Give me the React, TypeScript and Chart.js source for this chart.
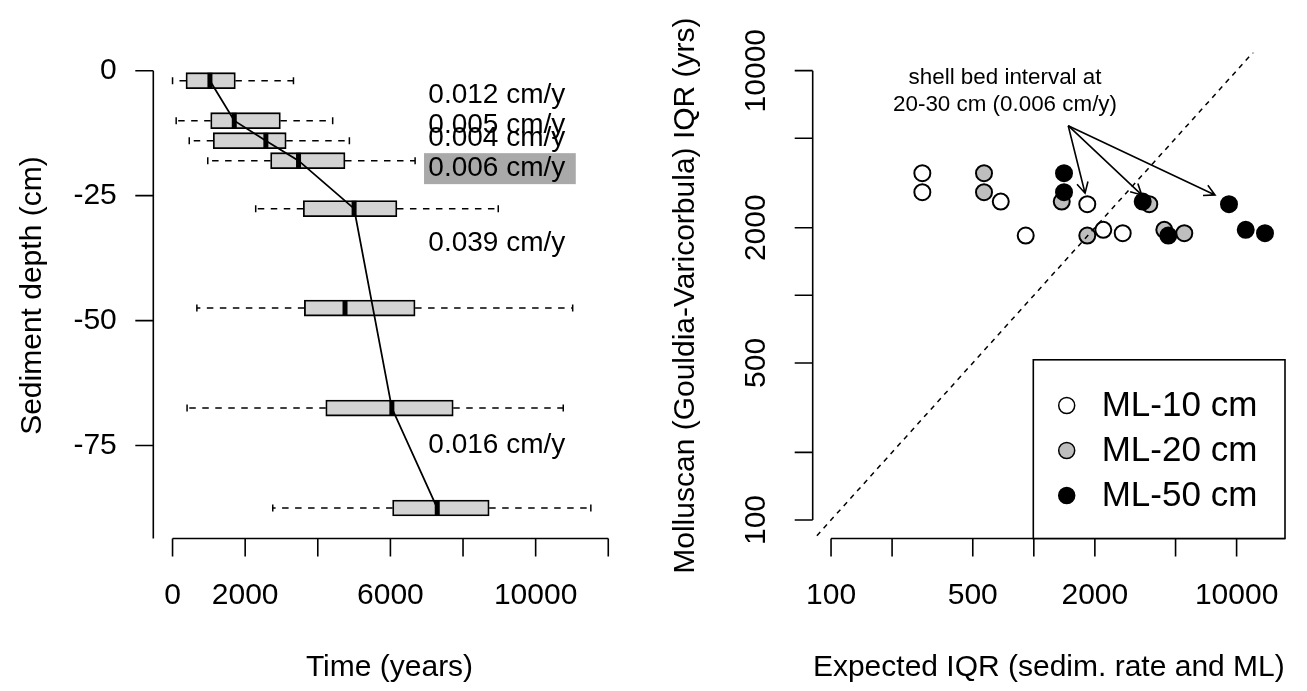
import React, { useEffect, useRef } from 'react';
import { Chart, registerables } from 'chart.js';

Chart.register(...registerables);

const FONT = '"Liberation Sans", Arial, Helvetica, sans-serif';

// ---------- Left panel: age distributions per sediment depth ----------
const boxDepths = [-2, -10, -14, -18, -27.6, -47.5, -67.5, -87.5];
const whiskerLow = [0, 100, 460, 970, 2290, 670, 400, 2760];
const boxQ1 = [370, 1050, 1120, 2700, 3600, 3630, 4220, 6060];
const boxMedian = [1030, 1700, 2570, 3470, 5000, 4750, 6040, 7290];
const boxQ3 = [1730, 2970, 3130, 4750, 6180, 6680, 7730, 8720];
const whiskerHigh = [3330, 4410, 4870, 6680, 8970, 11020, 10760, 11520];

// age-depth model line
const modelAges = [1030, 1700, 2570, 3470, 5000, 6040, 7290];
const modelDepths = [-2, -10, -14, -18, -27.6, -67.5, -87.5];

// sedimentation-rate labels
const rateLabels = ['0.012 cm/y', '0.005 cm/y', '0.004 cm/y', '0.006 cm/y', '0.039 cm/y', '0.016 cm/y'];
const rateDepths = [-4.9, -10.9, -13.5, -19.5, -34.5, -74.9];
const rateLabelAge = 7045;
const highlightBox = { x0: 6926, x1: 11105, y0: -16.5, y1: -22.7 };

const timeTicks = [0, 2000, 4000, 6000, 8000, 10000, 12000];
const timeTickLabels = ['0', '2000', '', '6000', '', '10000', ''];
const depthTicks = [0, -25, -50, -75];
const depthTickLabels = ['0', '-25', '-50', '-75'];

// ---------- Right panel: observed vs expected IQR ----------
const observedIQR = [3496, 2878, 2614, 1845, 2544, 1956, 1890];
const expectedML10 = [282, 282, 687, 912, 1835, 2201, 2744];
const expectedML20 = [568, 568, 1373, 1835, 3711, 4400, 5521];
const expectedML50 = [1409, 1409, 3443, 4604, 9173, 11090, 13804];
const seriesNames = ['ML-10 cm', 'ML-20 cm', 'ML-50 cm'];
const seriesFills = ['#ffffff', '#bebebe', '#000000'];

const logTicks = [100, 200, 500, 1000, 2000, 5000, 10000];
const logTickLabels = ['100', '', '500', '', '2000', '', '10000'];
const oneToOne = [50, 30000];

const arrowFrom = { x: 1478, y: 5690 };
const arrowToX = [1789, 3404, 7826];
const arrowToY = [2848, 2799, 2799];
const noteLines = ['shell bed interval at', '20-30 cm (0.006 cm/y)'];
const noteAnchor = { x: 721, y: 8100 };

// ---------- helpers ----------
function rotText(ctx: CanvasRenderingContext2D, t: string, x: number, y: number) {
  ctx.save();
  ctx.translate(x, y);
  ctx.rotate(-Math.PI / 2);
  ctx.textAlign = 'center';
  ctx.textBaseline = 'middle';
  ctx.fillText(t, 0, 0);
  ctx.restore();
}

const TICK = 18;
const AXIS_LW = 1.6;

const leftAxesPlugin = {
  id: 'leftAxes',
  afterDraw(chart: any) {
    const ctx = chart.ctx as CanvasRenderingContext2D;
    const xs = chart.scales.x;
    const ys = chart.scales.y;
    const { left, bottom, top } = chart.chartArea;
    const cy = (top + bottom) / 2;
    ctx.save();
    ctx.strokeStyle = '#000';
    ctx.fillStyle = '#000';
    ctx.lineWidth = AXIS_LW;
    const xa = xs.getPixelForValue(timeTicks[0]);
    const xb = xs.getPixelForValue(timeTicks[timeTicks.length - 1]);
    ctx.beginPath();
    ctx.moveTo(xa, bottom);
    ctx.lineTo(xb, bottom);
    timeTicks.forEach((v) => {
      const p = xs.getPixelForValue(v);
      ctx.moveTo(p, bottom);
      ctx.lineTo(p, bottom + TICK);
    });
    const ya = ys.getPixelForValue(depthTicks[0]);
    ctx.moveTo(left, ya);
    ctx.lineTo(left, bottom);
    depthTicks.forEach((v) => {
      const p = ys.getPixelForValue(v);
      ctx.moveTo(left, p);
      ctx.lineTo(left - TICK, p);
    });
    ctx.stroke();

    ctx.font = `30px ${FONT}`;
    ctx.textAlign = 'center';
    ctx.textBaseline = 'middle';
    timeTicks.forEach((v, i) => {
      if (timeTickLabels[i]) ctx.fillText(timeTickLabels[i], xs.getPixelForValue(v), bottom + 57.5);
    });
    ctx.textAlign = 'right';
    depthTicks.forEach((v, i) => {
      ctx.fillText(depthTickLabels[i], left - 36.5, ys.getPixelForValue(v));
    });
    ctx.textAlign = 'center';
    ctx.fillText('Time (years)', (chart.chartArea.left + chart.chartArea.right) / 2, bottom + 129.5);
    rotText(ctx, 'Sediment depth (cm)', left - 120.3, cy);
    ctx.restore();
  },
  afterDatasetsDraw(chart: any) {
    const ctx = chart.ctx as CanvasRenderingContext2D;
    const xs = chart.scales.x;
    const ys = chart.scales.y;
    ctx.save();
    const hx0 = xs.getPixelForValue(highlightBox.x0);
    const hx1 = xs.getPixelForValue(highlightBox.x1);
    const hy0 = ys.getPixelForValue(highlightBox.y0);
    const hy1 = ys.getPixelForValue(highlightBox.y1);
    ctx.fillStyle = '#a9a9a9';
    ctx.fillRect(hx0, hy0, hx1 - hx0, hy1 - hy0);
    ctx.fillStyle = '#000';
    ctx.font = `28px ${FONT}`;
    ctx.textAlign = 'left';
    ctx.textBaseline = 'middle';
    rateLabels.forEach((t, i) => {
      ctx.fillText(t, xs.getPixelForValue(rateLabelAge), ys.getPixelForValue(rateDepths[i]));
    });
    ctx.restore();
  },
};

const rightPlugin = {
  id: 'rightDecor',
  afterDatasetsDraw(chart: any) {
    const ctx = chart.ctx as CanvasRenderingContext2D;
    const xs = chart.scales.x;
    const ys = chart.scales.y;
    ctx.save();
    ctx.strokeStyle = '#000';
    ctx.fillStyle = '#000';
    ctx.lineWidth = 1.6;
    const fx = xs.getPixelForValue(arrowFrom.x);
    const fy = ys.getPixelForValue(arrowFrom.y);
    arrowToX.forEach((ax, i) => {
      const tx = xs.getPixelForValue(ax);
      const ty = ys.getPixelForValue(arrowToY[i]);
      const ang = Math.atan2(ty - fy, tx - fx);
      const L = 12;
      const a = (28 * Math.PI) / 180;
      ctx.beginPath();
      ctx.moveTo(fx, fy);
      ctx.lineTo(tx, ty);
      ctx.moveTo(tx - L * Math.cos(ang - a), ty - L * Math.sin(ang - a));
      ctx.lineTo(tx, ty);
      ctx.lineTo(tx - L * Math.cos(ang + a), ty - L * Math.sin(ang + a));
      ctx.stroke();
    });
    ctx.font = `22.4px ${FONT}`;
    ctx.textAlign = 'center';
    ctx.textBaseline = 'middle';
    const nx = xs.getPixelForValue(noteAnchor.x);
    const ny = ys.getPixelForValue(noteAnchor.y);
    const lh = 27;
    noteLines.forEach((t, i) => {
      ctx.fillText(t, nx, ny + (i - (noteLines.length - 1) / 2) * lh);
    });
    ctx.restore();
  },
  afterDraw(chart: any) {
    const ctx = chart.ctx as CanvasRenderingContext2D;
    const xs = chart.scales.x;
    const ys = chart.scales.y;
    const { left, right, top, bottom } = chart.chartArea;
    ctx.save();
    ctx.strokeStyle = '#000';
    ctx.fillStyle = '#000';
    ctx.lineWidth = AXIS_LW;
    ctx.beginPath();
    ctx.moveTo(xs.getPixelForValue(logTicks[0]), bottom);
    ctx.lineTo(right, bottom);
    logTicks.forEach((v) => {
      const p = xs.getPixelForValue(v);
      ctx.moveTo(p, bottom);
      ctx.lineTo(p, bottom + TICK);
    });
    ctx.moveTo(left, ys.getPixelForValue(logTicks[0]));
    ctx.lineTo(left, ys.getPixelForValue(logTicks[logTicks.length - 1]));
    logTicks.forEach((v) => {
      const p = ys.getPixelForValue(v);
      ctx.moveTo(left, p);
      ctx.lineTo(left - TICK, p);
    });
    ctx.stroke();

    ctx.font = `30px ${FONT}`;
    ctx.textAlign = 'center';
    ctx.textBaseline = 'middle';
    logTicks.forEach((v, i) => {
      if (logTickLabels[i]) {
        ctx.fillText(logTickLabels[i], xs.getPixelForValue(v), bottom + 57.5);
        rotText(ctx, logTickLabels[i], left - 56, ys.getPixelForValue(v));
      }
    });
    ctx.fillText('Expected IQR (sedim. rate and ML)', (left + right) / 2, bottom + 129.5);
    rotText(ctx, 'Molluscan (Gouldia-Varicorbula) IQR (yrs)', left - 126.7, (top + bottom) / 2);

    // legend (bottom-right of plot region)
    const bw = 251.7;
    const bh = 178.7;
    const bx = right - bw;
    const by = bottom - bh;
    ctx.fillStyle = '#fff';
    ctx.fillRect(bx, by, bw, bh);
    ctx.lineWidth = 1.6;
    ctx.strokeRect(bx, by, bw, bh);
    ctx.font = `35px ${FONT}`;
    ctx.textAlign = 'left';
    const dsets = chart.data.datasets.filter((d: any) => seriesNames.includes(d.label));
    dsets.forEach((d: any, i: number) => {
      const iy = by + 45.7 + i * 45;
      ctx.beginPath();
      ctx.arc(bx + 33.4, iy, 8, 0, Math.PI * 2);
      ctx.fillStyle = d.backgroundColor;
      ctx.fill();
      ctx.lineWidth = 1.5;
      ctx.strokeStyle = '#000';
      ctx.stroke();
      ctx.fillStyle = '#000';
      ctx.fillText(d.label, bx + 68.4, iy + 1);
    });
    ctx.restore();
  },
};

function leftConfig(): any {
  const whiskerData: any[] = [];
  const capData: any[] = [];
  boxDepths.forEach((d, i) => {
    whiskerData.push({ x: boxQ1[i], y: d }, { x: whiskerLow[i], y: d }, { x: NaN, y: NaN });
    whiskerData.push({ x: boxQ3[i], y: d }, { x: whiskerHigh[i], y: d }, { x: NaN, y: NaN });
    capData.push({ x: whiskerLow[i], y: d }, { x: whiskerHigh[i], y: d });
  });
  return {
    type: 'bar',
    data: {
      datasets: [
        {
          type: 'line',
          label: 'Age-depth model',
          data: modelAges.map((a, i) => ({ x: a, y: modelDepths[i] })),
          borderColor: '#000',
          borderWidth: 1.8,
          pointRadius: 0,
          fill: false,
          order: 0,
        },
        {
          type: 'scatter',
          label: 'Median',
          data: boxMedian.map((m, i) => ({ x: m, y: boxDepths[i] })),
          pointStyle: 'line',
          rotation: 90,
          pointRadius: 8,
          borderWidth: 5,
          borderColor: '#000',
          order: 1,
        },
        {
          type: 'bar',
          label: 'IQR',
          indexAxis: 'y',
          data: boxDepths.map((d, i) => ({ y: d, x: [boxQ1[i], boxQ3[i]] })),
          backgroundColor: '#d3d3d3',
          borderColor: '#000',
          borderWidth: 1.8,
          borderSkipped: false,
          barThickness: 16,
          order: 2,
        },
        {
          type: 'line',
          label: 'Whiskers',
          data: whiskerData,
          borderColor: '#000',
          borderWidth: 1.5,
          borderDash: [6.5, 6.5],
          pointRadius: 0,
          spanGaps: false,
          fill: false,
          order: 3,
        },
        {
          type: 'scatter',
          label: 'Whisker ends',
          data: capData,
          pointStyle: 'line',
          rotation: 90,
          pointRadius: 3.5,
          borderWidth: 1.5,
          borderColor: '#000',
          order: 3,
        },
      ],
    },
    options: {
      responsive: false,
      animation: false,
      devicePixelRatio: 1,
      events: [],
      layout: { padding: { left: 153.3, right: 1307 - 625.7, top: 52.7, bottom: 691 - 538.5 } },
      scales: {
        x: {
          type: 'linear',
          min: -530,
          max: 12480,
          offset: false,
          beginAtZero: false,
          grace: 0,
          grid: { offset: false },
          display: false,
        },
        y: {
          type: 'linear',
          min: -93.6,
          max: 3.6,
          offset: false,
          beginAtZero: false,
          grace: 0,
          grid: { offset: false },
          display: false,
        },
      },
      plugins: { legend: { display: false }, tooltip: { enabled: false } },
    },
    plugins: [leftAxesPlugin],
  };
}

function rightConfig(): any {
  const expected = [expectedML10, expectedML20, expectedML50];
  return {
    type: 'scatter',
    data: {
      datasets: [
        ...expected.map((arr, s) => ({
          label: seriesNames[s],
          data: arr.map((x, i) => ({ x, y: observedIQR[i] })),
          backgroundColor: seriesFills[s],
          borderColor: '#000',
          borderWidth: 2,
          pointRadius: 8,
          order: 3 - s,
        })),
        {
          type: 'line',
          label: '1:1',
          data: oneToOne.map((v) => ({ x: v, y: v })),
          borderColor: '#000',
          borderWidth: 1.5,
          borderDash: [5, 5],
          pointRadius: 0,
          fill: false,
          order: 0,
        },
      ],
    },
    options: {
      responsive: false,
      animation: false,
      devicePixelRatio: 1,
      events: [],
      layout: { padding: { left: 812.7, right: 1307 - 1285, top: 52.7, bottom: 691 - 538.5 } },
      scales: {
        x: { type: 'logarithmic', min: 81.2, max: 17325, display: false },
        y: { type: 'logarithmic', min: 82.7, max: 12023, display: false },
      },
      plugins: { legend: { display: false }, tooltip: { enabled: false } },
    },
    plugins: [rightPlugin],
  };
}

export default function App() {
  const leftRef = useRef<HTMLCanvasElement>(null);
  const rightRef = useRef<HTMLCanvasElement>(null);
  useEffect(() => {
    const l = new Chart(leftRef.current as HTMLCanvasElement, leftConfig());
    const r = new Chart(rightRef.current as HTMLCanvasElement, rightConfig());
    return () => {
      l.destroy();
      r.destroy();
    };
  }, []);
  return (
    <div
      style={{
        position: 'fixed',
        left: 0,
        top: 0,
        width: 1307,
        height: 691,
        background: '#fff',
        overflow: 'hidden',
      }}
    >
      <canvas ref={leftRef} width={1307} height={691} style={{ position: 'absolute', left: 0, top: 0 }} />
      <canvas ref={rightRef} width={1307} height={691} style={{ position: 'absolute', left: 0, top: 0 }} />
    </div>
  );
}
